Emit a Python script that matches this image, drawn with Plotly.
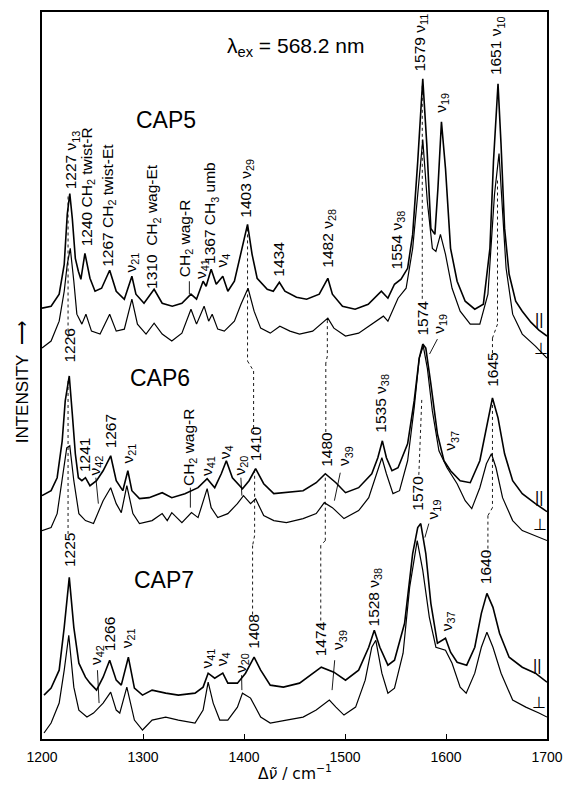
import plotly.graph_objects as go

# ---------------- data (wavenumber / cm-1, intensity in arbitrary units) ----------------
cap5_par_wn = [1200, 1209, 1217, 1222, 1225, 1227.5, 1230, 1233, 1236, 1238.5, 1242.5, 1247.5, 1252.5, 1259, 1267,
               1273.5, 1281.5, 1289, 1293, 1301, 1311, 1319, 1329, 1338.5, 1347.5, 1353, 1359.5, 1362.5, 1367.5,
               1372.5, 1379, 1384, 1390.5, 1397, 1403.5, 1408, 1413, 1423, 1429, 1435, 1440.5, 1452, 1462, 1474.5,
               1483, 1487.5, 1497.5, 1510, 1523, 1536, 1542.5, 1549, 1555.5, 1562, 1567, 1572, 1577, 1581, 1585,
               1589, 1592, 1595.5, 1599.5, 1604.5, 1611, 1619, 1628.5, 1637, 1643.5, 1647, 1651.5, 1654.5, 1658,
               1662.5, 1669, 1675.5, 1684, 1692, 1700]
cap5_par_int = [432, 434, 446, 476, 526, 547, 522, 482, 469, 461, 487, 462, 449, 452, 470,
                449, 441, 464, 446, 437, 451, 437, 434, 437, 446, 441, 459, 454, 471,
                456, 464, 449, 459, 486, 516, 486, 462, 451, 449, 458, 449, 443, 441, 446,
                462, 446, 434, 431, 436, 449, 442, 456, 461, 472, 506, 579, 662, 596, 512,
                506, 552, 619, 572, 492, 459, 439, 431, 436, 492, 579, 657, 596, 512,
                466, 439, 429, 418, 410, 404]

cap5_perp_wn = [1200, 1209, 1217, 1222, 1225, 1228, 1231.5, 1234.5, 1239.5, 1243.5, 1249, 1257.5, 1267, 1273.5,
                1281.5, 1289, 1294.5, 1303, 1311, 1319, 1328.5, 1338.5, 1347.5, 1353, 1360.5, 1365, 1368.5, 1374,
                1380.5, 1390.5, 1397, 1404, 1410, 1416.5, 1426, 1435.5, 1445.5, 1455, 1468, 1483, 1489, 1500.5,
                1513.5, 1526.5, 1538, 1542.5, 1552.5, 1560.5, 1567, 1572, 1577, 1581.5, 1586.5, 1590, 1594.5,
                1599.5, 1606, 1614, 1624, 1633.5, 1641.5, 1648, 1652.5, 1656, 1659.5, 1666, 1675.5, 1688.5, 1700]
cap5_perp_int = [392, 399, 419, 449, 476, 492, 459, 426, 416, 426, 409, 406, 426, 409,
                 411, 441, 416, 406, 417, 406, 399, 407, 431, 416, 434, 419, 426, 411,
                 409, 419, 436, 452, 429, 412, 407, 414, 409, 406, 409, 422, 412, 404,
                 407, 416, 424, 419, 442, 452, 492, 546, 601, 539, 492, 489, 506,
                 486, 452, 429, 416, 416, 446, 546, 587, 529, 472, 426, 406, 394, 382]

cap6_par_wn = [1200, 1209, 1215, 1220, 1223, 1227, 1230, 1233, 1236, 1239.5, 1243, 1247.5, 1254, 1260.5, 1268,
               1273.5, 1280, 1285, 1289, 1296.5, 1306, 1319, 1328.5, 1341.5, 1354.5, 1363.5, 1371, 1377.5, 1382.5,
               1388.5, 1398.5, 1405, 1411.5, 1419.5, 1429.5, 1442, 1458.5, 1471.5, 1480.5, 1491, 1500.5, 1513.5,
               1526.5, 1532.5, 1537, 1541, 1546.5, 1552.5, 1562, 1568.5, 1573.5, 1577, 1580, 1585, 1591.5, 1598,
               1604.5, 1614, 1624, 1633.5, 1640, 1646, 1651.5, 1658, 1666, 1675.5, 1688.5, 1700]
cap6_par_int = [244, 249, 262, 299, 339, 364, 326, 286, 262, 259, 262, 254, 259, 269, 284,
                259, 249, 269, 249, 241, 242, 247, 242, 246, 252, 261, 252, 266, 279,
                262, 251, 259, 271, 256, 246, 247, 249, 257, 266, 257, 247, 252,
                266, 282, 299, 282, 269, 272, 296, 339, 382, 396, 392, 356, 306, 279,
                269, 259, 257, 279, 312, 342, 322, 286, 259, 246, 236, 228]

cap6_perp_wn = [1200, 1209, 1215, 1220, 1224.5, 1227.5, 1231.5, 1236.5, 1243, 1251, 1260.5, 1268, 1273.5, 1278.5,
                1284, 1290, 1296.5, 1309, 1319, 1324, 1328.5, 1338.5, 1348, 1354.5, 1360.5, 1363.5, 1367.5, 1374,
                1384, 1393.5, 1399.5, 1406.5, 1411.5, 1419.5, 1429.5, 1442, 1458.5, 1471.5, 1479.5, 1487.5, 1499,
                1513.5, 1523.5, 1531.5, 1536.5, 1541, 1547.5, 1554, 1562, 1568.5, 1573.5, 1577.5, 1581.5, 1586.5,
                1593, 1601, 1611, 1619, 1625.5, 1633.5, 1640, 1645, 1649.5, 1656, 1666, 1675.5, 1688.5, 1700]
cap6_perp_int = [209, 212, 226, 259, 292, 294, 259, 226, 219, 216, 239, 252, 236, 227,
                 254, 226, 216, 219, 226, 219, 227, 217, 227, 222, 242, 251, 232, 222,
                 226, 236, 244, 236, 241, 224, 219, 217, 221, 226, 237, 232, 221,
                 229, 242, 266, 282, 266, 246, 249, 279, 332, 382, 394, 372, 329,
                 289, 272, 256, 239, 231, 252, 276, 286, 272, 242, 219, 209, 204, 199]

cap7_par_wn = [1202, 1209, 1217, 1222, 1227, 1231.5, 1236.5, 1243, 1247.5, 1254, 1260.5, 1267, 1273.5, 1278.5,
               1285.5, 1291.5, 1299.5, 1309, 1322.5, 1335, 1351.5, 1359.5, 1364.5, 1371, 1379, 1384, 1393.5,
               1401.5, 1410, 1416.5, 1426, 1439, 1455, 1468, 1476.5, 1489, 1500.5, 1513.5, 1523.5, 1529, 1534.5,
               1542.5, 1549, 1559, 1567, 1572, 1575, 1580, 1585, 1591.5, 1599.5, 1604.5, 1611, 1620.5, 1628.5,
               1635, 1640.5, 1646.5, 1653, 1662.5, 1675.5, 1688.5, 1700]
cap7_par_int = [44, 51, 69, 112, 162, 112, 76, 62, 56, 49, 62, 79, 59, 54,
                82, 51, 44, 49, 46, 44, 46, 52, 66, 61, 66, 56, 56,
                66, 82, 69, 54, 52, 56, 66, 72, 67, 59, 69, 92, 109, 92,
                74, 79, 116, 186, 212, 216, 186, 136, 96, 101, 87, 77, 74, 92,
                126, 146, 132, 106, 82, 72, 66, 57]

cap7_perp_wn = [1202, 1209, 1217, 1222, 1226.5, 1231.5, 1236.5, 1244.5, 1251, 1260.5, 1268, 1273.5, 1277, 1284,
                1291.5, 1299.5, 1309, 1322.5, 1335, 1351.5, 1359.5, 1364.5, 1369.5, 1376, 1384, 1393.5, 1398.5,
                1406.5, 1416.5, 1426, 1442, 1458.5, 1471.5, 1484.5, 1491, 1499, 1510.5, 1520, 1526.5, 1530.5,
                1536.5, 1542.5, 1549, 1557.5, 1564, 1571.5, 1577, 1583.5, 1590, 1599.5, 1606, 1614, 1620, 1628.5,
                1635, 1640.5, 1646.5, 1654.5, 1666, 1679, 1692, 1700]
cap7_perp_int = [6, 16, 36, 69, 104, 52, 29, 22, 26, 36, 47, 29, 26, 52,
                 19, 9, 19, 22, 19, 16, 29, 57, 36, 19, 19, 32, 46,
                 41, 22, 16, 19, 22, 29, 39, 32, 24, 32, 59, 92, 99,
                 66, 46, 51, 86, 152, 199, 169, 122, 92, 89, 76, 52, 46, 66,
                 92, 107, 92, 66, 39, 32, 26, 22]

x_ticks = [1200, 1300, 1400, 1500, 1600, 1700]

# ---------------- figure ----------------
fig = go.Figure()
series = [
    (cap5_par_wn, cap5_par_int, 1.6), (cap5_perp_wn, cap5_perp_int, 1.2),
    (cap6_par_wn, cap6_par_int, 1.6), (cap6_perp_wn, cap6_perp_int, 1.2),
    (cap7_par_wn, cap7_par_int, 1.6), (cap7_perp_wn, cap7_perp_int, 1.2),
]
for wn, it, w in series:
    fig.add_trace(go.Scatter(x=wn, y=it, mode="lines", line=dict(color="black", width=w),
                             showlegend=False, hoverinfo="skip"))

shapes = []
def dashed(pts):
    for (x0, y0), (x1, y1) in zip(pts[:-1], pts[1:]):
        shapes.append(dict(type="line", xref="x", yref="y", x0=x0, y0=y0, x1=x1, y1=y1,
                           line=dict(color="black", width=0.9, dash="3px,3px")))

def leader(x0, y0, x1, y1):
    shapes.append(dict(type="line", xref="x", yref="y", x0=x0, y0=y0, x1=x1, y1=y1,
                       line=dict(color="black", width=0.9)))

dashed([(1225.8, 544), (1225.8, 402)])
dashed([(1225.8, 359), (1225.8, 202)])
dashed([(1403.5, 512), (1403.5, 379), (1409.5, 369), (1409.5, 307)])
dashed([(1410.5, 270), (1410.5, 204), (1408.5, 194), (1408.5, 122)])
dashed([(1482.5, 420), (1482.5, 384), (1481, 377), (1481, 305)])
dashed([(1480.5, 262), (1480.5, 199), (1476, 194), (1476, 112)])
dashed([(1576.5, 655), (1576.5, 440)])
dashed([(1576, 340), (1573, 262)])
dashed([(1651, 560), (1651, 416), (1646, 402), (1646, 383)])
dashed([(1646, 335), (1646, 232), (1641.5, 224), (1641.5, 186)])

leader(1345.9, 459, 1345.9, 446)
leader(1253.3, 262, 1255.8, 236)
leader(1346.9, 252, 1346.9, 232)
leader(1396.9, 262, 1397.9, 244)
leader(1495.3, 267, 1489.5, 239)
leader(1591.5, 401, 1583.7, 386)
leader(1254.9, 69, 1256.5, 36)
leader(1397.6, 64, 1397.9, 49)
leader(1489.8, 79, 1487.2, 49)
leader(1583, 216, 1579.1, 202)

SANS = "Liberation Sans, Arial"
anns = []
def rot(x, y, text, size=15.5):
    anns.append(dict(x=x, y=y, xref="x", yref="y", text=text, textangle=-90, showarrow=False,
                     xanchor="center", yanchor="bottom", font=dict(family=SANS, size=size, color="black")))

# CAP5
rot(1229, 549, "1227 ν<sub>13</sub>")
rot(1245, 492, "1240 CH<sub>2</sub> twist-R")
rot(1266.3, 472, "1267 CH<sub>2</sub> twist-Et")
rot(1288.4, 466, "ν<sub>21</sub>")
rot(1310.1, 449, "1310  CH<sub>2</sub> wag-Et")
rot(1341.5, 461, "CH<sub>2</sub> wag-R")
rot(1357.2, 459, "ν<sub>41</sub>")
rot(1367, 474, "1367 CH<sub>3</sub> umb")
rot(1378.4, 471, "ν<sub>4</sub>")
rot(1402.7, 521, "1403 ν<sub>29</sub>")
rot(1434.6, 462, "1434")
rot(1484, 471, "1482 ν<sub>28</sub>")
rot(1552.1, 469, "1554 ν<sub>38</sub>")
rot(1575, 667, "1579 ν<sub>11</sub>")
rot(1596, 626, "ν<sub>19</sub>")
rot(1650.3, 664, "1651 ν<sub>10</sub>")
# CAP6
rot(1226.3, 375, "1226")
rot(1241.9, 266, "1241")
rot(1253.3, 262, "ν<sub>42</sub>")
rot(1267.9, 289, "1267")
rot(1285.8, 274, "ν<sub>21</sub>")
rot(1345.9, 252, "CH<sub>2</sub> wag-R")
rot(1363.7, 262, "ν<sub>41</sub>")
rot(1381.6, 279, "ν<sub>4</sub>")
rot(1396.9, 262, "ν<sub>20</sub>")
rot(1410.8, 277, "1410")
rot(1481.7, 271, "1480")
rot(1500.2, 272, "ν<sub>39</sub>")
rot(1536, 305, "1535 ν<sub>38</sub>")
rot(1577.2, 403, "1574")
rot(1592.8, 404, "ν<sub>19</sub>")
rot(1605, 287, "ν<sub>37</sub>")
rot(1646.4, 351, "1645")
# CAP7
rot(1227.3, 170, "1225")
rot(1253.3, 72, "ν<sub>42</sub>")
rot(1266.3, 86, "1266")
rot(1284.1, 89, "ν<sub>21</sub>")
rot(1363.7, 69, "ν<sub>41</sub>")
rot(1378.4, 71, "ν<sub>4</sub>")
rot(1396.9, 64, "ν<sub>20</sub>")
rot(1409.3, 89, "1408")
rot(1475.8, 81, "1474")
rot(1493.7, 87, "ν<sub>39</sub>")
rot(1529.4, 111, "1528 ν<sub>38</sub>")
rot(1571.8, 227, "1570")
rot(1587.9, 218, "ν<sub>19</sub>")
rot(1600.9, 106, "ν<sub>37</sub>")
rot(1639.9, 153, "1640")

def txt(x, y, text, size, family=SANS):
    anns.append(dict(x=x, y=y, xref="x", yref="y", text=text, showarrow=False,
                     xanchor="center", yanchor="middle", font=dict(family=family, size=size, color="black")))

txt(1322.8, 621, "CAP5", 23)
txt(1317, 362, "CAP6", 23)
txt(1320.9, 159, "CAP7", 23)
txt(1451.5, 694, "λ<sub>ex</sub> = 568.2 nm", 21)
for xx, yy, t in [(1692.2, 421, "||"), (1694.2, 392, "⊥"), (1691.9, 242, "||"), (1693.2, 215, "⊥"),
                  (1690.3, 74, "||"), (1691.9, 37, "⊥")]:
    txt(xx, yy, t, 16)

anns.append(dict(x=0.5, y=-0.046, xref="paper", yref="paper", text="Δ<i>ν̃</i> / cm<sup>−1</sup>",
                 showarrow=False, xanchor="center", yanchor="middle",
                 font=dict(family="DejaVu Sans, Liberation Sans", size=15.5, color="black")))
anns.append(dict(x=-0.039, y=0.491, xref="paper", yref="paper", text="INTENSITY  ⟶",
                 showarrow=False, xanchor="center", yanchor="middle", textangle=-90,
                 font=dict(family=SANS, size=17, color="black")))

fig.update_layout(
    width=573, height=791,
    margin=dict(l=42, r=18, t=10, b=52),
    paper_bgcolor="white", plot_bgcolor="white",
    shapes=shapes, annotations=anns,
    xaxis=dict(range=[1200, 1700], tickvals=x_ticks, ticktext=[str(t) for t in x_ticks],
               ticks="inside", ticklen=5, tickwidth=1.2, tickcolor="black",
               showline=True, linecolor="black", linewidth=1.5, mirror=True,
               showgrid=False, zeroline=False, ticklabelstandoff=4,
               tickfont=dict(family=SANS, size=14, color="black")),
    yaxis=dict(range=[0, 729], showticklabels=False, ticks="",
               showline=True, linecolor="black", linewidth=1.5, mirror=True,
               showgrid=False, zeroline=False),
)

fig.write_html("out.html")
